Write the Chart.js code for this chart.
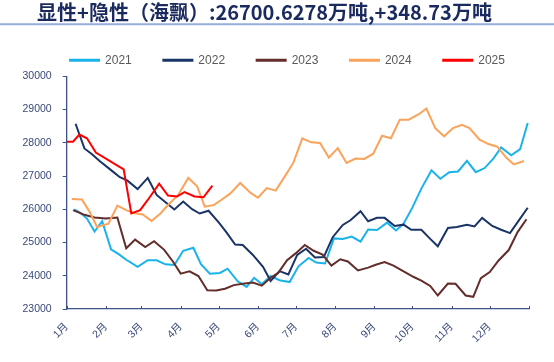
<!DOCTYPE html>
<html>
<head>
<meta charset="utf-8">
<script src="https://cdn.jsdelivr.net/npm/chart.js@4.4.1/dist/chart.umd.min.js"></script>
<style>
html,body{margin:0;padding:0;background:#fff;}
#wrap{width:554px;height:362px;position:relative;}
</style>
</head>
<body>
<div id="wrap"><canvas id="c" width="554" height="362"></canvas></div>
<script>
// ---------- data ----------
const titleText = '显性+隐性（海飘）:26700.6278万吨,+348.73万吨';
const seriesNames = ['2021', '2022', '2023', '2024', '2025'];
const monthStarts = [0, 31, 59, 90, 120, 151, 181, 212, 243, 273, 304, 334, 365];
const monthLabels = ['1月','2月','3月','4月','5月','6月','7月','8月','9月','10月','11月','12月',''];
const yMin = 23000, yMax = 30000, yStep = 1000;

// x = day of year (0 = 1 Jan)
const days2021 = [6,11,16,22,28,35,41,47,56,64,71,78,85,92,100,106,113,121,127,135,142,148,154,161,168,176,183,191,197,204,211,218,225,232,238,245,253,260,266,273,280,288,295,302,309,316,323,330,337,343,351,358,364];
const vals2021 = [25995,25888,25720,25332,25644,24794,24650,24482,24268,24467,24467,24345,24323,24751,24843,24345,24063,24085,24213,23834,23663,23938,23748,23993,23865,23809,24283,24534,24397,24369,25124,25109,25179,25026,25393,25378,25598,25363,25567,26056,26622,27172,26919,27117,27136,27454,27117,27240,27533,27860,27625,27808,28594];

const days2022 = [7,14,20,26,36,42,48,56,64,71,79,85,92,99,105,112,120,126,133,139,147,155,161,168,175,182,189,196,203,210,218,224,232,238,245,251,259,266,272,280,287,293,301,308,316,322,328,336,343,350,357,364];
const vals2022 = [28572,27830,27655,27453,27148,26964,26860,26607,26943,26432,26179,25995,26231,26004,25873,25955,25604,25314,24941,24925,24626,24268,23840,24140,24039,24626,24812,24549,24565,25161,25528,25668,25943,25638,25742,25742,25497,25537,25384,25384,25109,24886,25436,25466,25537,25485,25742,25497,25384,25283,25668,26047];

const days2023 = [5,14,22,31,40,47,54,62,69,77,84,90,97,104,111,118,125,132,139,147,154,161,167,174,181,188,195,202,209,216,222,230,238,244,251,258,266,274,280,287,293,301,307,315,321,327,334,341,349,356,363];
const vals2023 = [25974,25833,25751,25720,25751,24825,25087,24864,25038,24779,24421,24063,24131,23993,23565,23556,23611,23718,23758,23794,23703,23938,24085,24467,24681,24925,24751,24635,24305,24497,24430,24161,24244,24329,24412,24305,24131,23962,23855,23693,23406,23764,23758,23406,23366,23926,24109,24461,24773,25314,25699];

const days2024 = [4,12,18,24,33,40,47,53,60,67,74,80,88,96,103,109,116,122,129,137,145,151,158,165,172,179,186,193,200,207,214,221,228,235,242,249,256,263,270,278,284,291,298,305,312,318,326,333,340,347,353,361];
const vals2024 = [26310,26292,25930,25466,25567,26108,25974,25888,25842,25650,25873,26127,26432,26943,26689,26078,26127,26280,26469,26790,26500,26347,26637,26561,26974,27402,28135,28013,27992,27554,27839,27392,27524,27515,27671,28212,28135,28695,28695,28860,29031,28441,28196,28441,28542,28441,28095,27961,27882,27554,27350,27454];

const days2025 = [0,5,10,16,23,45,51,58,64,73,80,87,93,101,108,115];
const vals2025 = [28034,28034,28248,28135,27707,27197,25873,25974,26280,26769,26414,26384,26515,26384,26362,26708];

// ---------- styling ----------
const colors = ['#19B3EC', '#1A3468', '#622D2A', '#F9A35B', '#FF0000'];
const axisColor = '#3F5288';
const tickTextColor = '#3A4A7A';

const seriesDays = [days2021, days2022, days2023, days2024, days2025];
const seriesVals = [vals2021, vals2022, vals2023, vals2024, vals2025];

const datasets = seriesNames.map((name, i) => ({
  label: name,
  data: seriesDays[i].map((d, j) => ({ x: d, y: seriesVals[i][j] })),
  borderColor: colors[i],
  backgroundColor: colors[i],
  borderWidth: 2,
  pointRadius: 0,
  tension: 0,
  order: seriesNames.length - 1 - i
}));

const decorPlugin = {
  id: 'decor',
  afterLayout(chart) {
    const L = chart.legend;
    if (L) { L.left += 23; L.right += 23; }
  },
  beforeDraw(chart) {
    const ctx = chart.ctx;
    ctx.save();
    ctx.fillStyle = '#ffffff';
    ctx.fillRect(0, 0, chart.width, chart.height);
    ctx.strokeStyle = '#95AEDD';
    ctx.lineWidth = 2;
    ctx.beginPath();
    ctx.moveTo(0, 24.3);
    ctx.lineTo(chart.width, 24.3);
    ctx.stroke();
    ctx.restore();
  },
  afterDraw(chart) {
    const ctx = chart.ctx;
    const xs = chart.scales.x;
    const b = chart.chartArea.bottom;
    ctx.save();
    ctx.strokeStyle = axisColor;
    ctx.lineWidth = 1;
    ctx.beginPath();
    monthStarts.forEach(v => {
      const px = Math.round(xs.getPixelForValue(v)) + 0.5;
      ctx.moveTo(px, b);
      ctx.lineTo(px, b - 3);
    });
    ctx.stroke();
    ctx.restore();
  }
};

new Chart(document.getElementById('c'), {
  type: 'line',
  data: { datasets },
  plugins: [decorPlugin],
  options: {
    responsive: false,
    animation: false,
    devicePixelRatio: 1,
    layout: { padding: { left: 0, right: 25, top: 0, bottom: 13 } },
    plugins: {
      title: {
        display: true,
        text: titleText,
        color: '#1B2A5E',
        font: { family: "'Noto Sans CJK SC', sans-serif", size: 20, weight: 'bold', lineHeight: 1 },
        padding: { top: 2.5, bottom: 0.2 }
      },
      legend: {
        display: true,
        position: 'top',
        maxHeight: 57.3,
        labels: {
          boxWidth: 29,
          boxHeight: 1,
          padding: 31.6,
          color: '#595959',
          font: { family: "'Liberation Sans', sans-serif", size: 12 },
          sort: (a, b) => a.datasetIndex - b.datasetIndex
        }
      },
      tooltip: { enabled: false }
    },
    scales: {
      x: {
        type: 'linear',
        min: monthStarts[0],
        max: monthStarts[monthStarts.length - 1],
        afterBuildTicks: s => { s.ticks = monthStarts.map(v => ({ value: v })); },
        afterFit: s => { s.height = 40; },
        ticks: {
          autoSkip: false,
          minRotation: 45,
          maxRotation: 45,
          padding: 11.5,
          color: tickTextColor,
          font: { family: "'Liberation Sans', 'Noto Sans CJK SC', sans-serif", size: 10.5 },
          callback: (v, i) => monthLabels[i]
        },
        grid: { drawOnChartArea: false, drawTicks: false },
        border: { display: true, color: axisColor, width: 1.3 }
      },
      y: {
        min: yMin,
        max: yMax,
        afterFit: s => { s.width = 66.7; },
        ticks: {
          stepSize: yStep,
          padding: 11,
          color: tickTextColor,
          font: { family: "'Liberation Sans', sans-serif", size: 10.5 },
          callback: v => String(v)
        },
        grid: { drawOnChartArea: false, drawTicks: true, tickLength: 4, tickColor: axisColor },
        border: { display: true, color: axisColor, width: 1.3 }
      }
    }
  }
});
</script>
</body>
</html>
